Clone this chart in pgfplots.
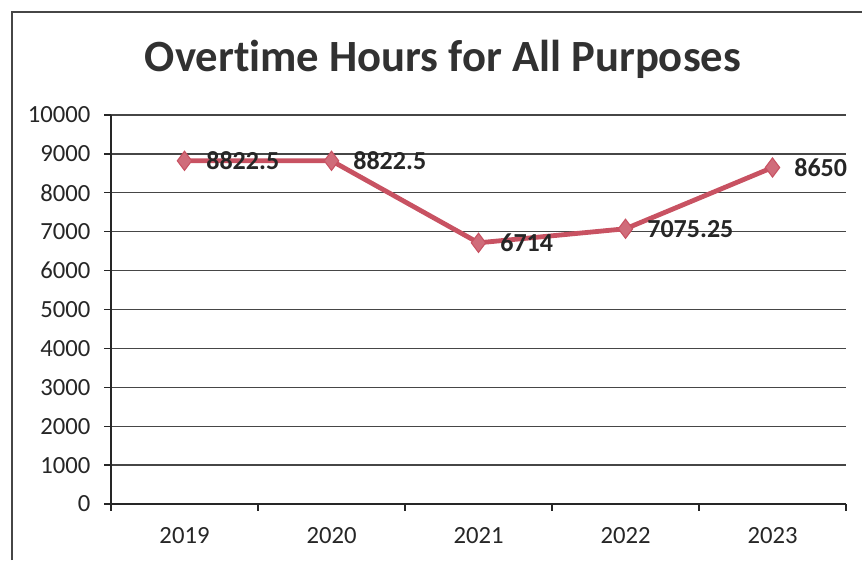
\documentclass[border=0pt]{standalone}
\usepackage{fontspec}
\setmainfont[Ligatures=NoCommon]{Carlito}
\usepackage{pgfplots}
\pgfplotsset{compat=1.18}
\definecolor{linec}{RGB}{200,82,98}
\definecolor{txt}{RGB}{38,38,38}
\definecolor{gridc}{RGB}{70,70,70}
\begin{document}
\begin{tikzpicture}
\path[use as bounding box] (0,0) rectangle (646.5pt,420pt);
\draw[gridc, line width=0.8pt] (9pt,0) -- (9pt,411pt) -- (646.5pt,411pt);
\node[anchor=base, font=\fontsize{33.5}{40}\selectfont\bfseries, text=txt!95!white] at (332.25pt,366pt) {Overtime Hours for All Purposes};
\begin{axis}[
  at={(83.25pt,42pt)}, anchor=south west,
  scale only axis, width=551.25pt, height=291.75pt,
  xmin=-0.5, xmax=4.5, ymin=0, ymax=10000,
  ytick={0,1000,...,10000},
  scaled y ticks=false,
  xtick={-0.5,0.5,...,4.5}, xticklabels={},
  extra x ticks={0,1,2,3,4},
  extra x tick labels={2019,2020,2021,2022,2023},
  extra x tick style={major tick length=0pt, xticklabel style={yshift=-14pt}},
  axis x line*=bottom, axis y line*=left,
  axis line style={black!85, line width=1pt},
  tick align=outside, major tick length=5pt,
  tick style={black!85, line width=1pt},
  ymajorgrids, grid style={gridc, line width=1pt},
  /pgf/number format/assume math mode=true,
  /pgf/number format/1000 sep={},
  ticklabel style={font=\fontsize{18.5}{20}\selectfont, text=txt},
  yticklabel style={xshift=-7pt},
  clip=false,
]
\addplot[linec, line width=3.6pt, mark=diamond*, mark size=7.2pt,
  mark options={fill=linec!85!white, draw=linec, line width=0.8pt},
  nodes near coords, point meta=explicit symbolic,
  every node near coord/.style={anchor=west, inner sep=0pt, xshift=16pt, font=\fontsize{19.5}{20}\selectfont\bfseries, text=txt}]
coordinates {
(0,8822.5) [8822.5]
(1,8822.5) [8822.5]
(2,6714) [6714]
(3,7075.25) [7075.25]
(4,8650) [8650]
};
\end{axis}
\end{tikzpicture}
\end{document}
